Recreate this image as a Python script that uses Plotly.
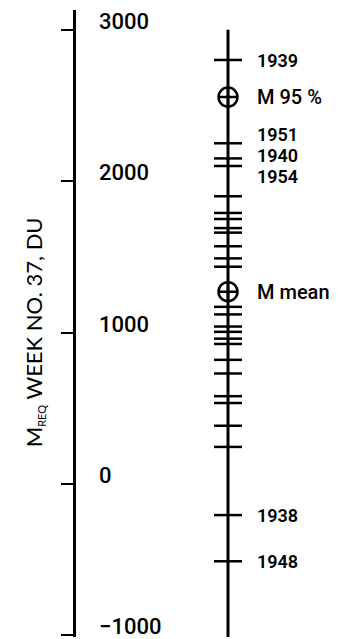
import plotly.graph_objects as go

# Main scale: required M for week 37 (Dobson units)
axis_ticks = [-1000, 0, 1000, 2000, 3000]

# Yearly values marked on the nomogram scale
labeled_years = ["1939", "1951", "1940", "1954", "1938", "1948"]
labeled_values = [2800, 2250, 2150, 2100, -205, -510]
unlabeled_values = [1900, 1790, 1750, 1690, 1660, 1570, 1490, 1435, 1170, 1120,
                    1040, 1005, 960, 925, 820, 730, 580, 535, 385, 245]

# Statistics shown as circled markers
stat_labels = ["M 95 %", "M mean"]
stat_values = [2555, 1270]

W, H = 338, 639
Y_RANGE = [-1010, 3130]
AXIS_X = 74          # left axis position (x-axis units = px)
SCALE_X = 228        # nomogram scale position
LABEL_X = 255
TICKLABEL_X = 97

label_font = "Roboto, Liberation Sans, Arial, sans-serif"
# small vertical nudges so stacked labels don't collide
label_nudge = {"1951": 9, "1940": 3, "1954": -10}

fig = go.Figure()

# nomogram scale line
fig.add_shape(type="line", xref="x", yref="y",
              x0=SCALE_X, x1=SCALE_X, y0=Y_RANGE[0], y1=max(axis_ticks),
              line=dict(color="black", width=3))

all_year_values = labeled_values + unlabeled_values
fig.add_trace(go.Scatter(
    x=[SCALE_X] * len(all_year_values), y=all_year_values, mode="markers",
    marker=dict(symbol="line-ew-open", size=20, color="black",
                line=dict(color="black", width=2.5)),
    hoverinfo="y", showlegend=False))

fig.add_trace(go.Scatter(
    x=[SCALE_X] * len(stat_values), y=stat_values, mode="markers",
    marker=dict(symbol="circle-cross-open", size=19, color="black",
                line=dict(color="black", width=2.5)),
    hoverinfo="y", showlegend=False))

annotations = []
for yr, v in zip(labeled_years, labeled_values):
    annotations.append(dict(x=LABEL_X, y=v, xref="x", yref="y", text=yr,
                            showarrow=False, xanchor="left", yanchor="middle",
                            yshift=label_nudge.get(yr, 0), height=16, valign="middle",
                            font=dict(family=label_font, size=18, weight=600, color="black")))
for name, v in zip(stat_labels, stat_values):
    annotations.append(dict(x=LABEL_X, y=v, xref="x", yref="y", text=name,
                            showarrow=False, xanchor="left", yanchor="middle",
                            font=dict(family=label_font, size=20, weight=500, color="black")))

# left-axis tick labels, set to the right of the axis line
for t in axis_ticks:
    annotations.append(dict(x=TICKLABEL_X, y=t, xref="x", yref="y",
                            text=f"{t:d}".replace("-", "\u2212"),
                            showarrow=False, xanchor="left", yanchor="middle",
                            yshift=9, height=20, valign="middle",
                            font=dict(family=label_font, size=22, weight=500, color="black")))

# rotated axis title
annotations.append(dict(
    x=34 / W, y=0.486, xref="paper", yref="paper",
    text="M<sub><span style='font-size:11px'>REQ</span></sub> WEEK NO. 37, DU",
    textangle=-90, showarrow=False, xanchor="center", yanchor="middle",
    font=dict(family="Lato, Open Sans, sans-serif", size=22, color="black")))

fig.update_layout(
    width=W, height=H,
    margin=dict(l=0, r=0, t=10, b=2),
    paper_bgcolor="white", plot_bgcolor="white",
    annotations=annotations,
    xaxis=dict(range=[0, W], visible=False, domain=[0, 1]),
    yaxis=dict(range=Y_RANGE, anchor="free", position=AXIS_X / W,
               showline=True, linecolor="black", linewidth=3,
               ticks="outside", ticklen=12, tickwidth=2, tickcolor="black",
               tickvals=axis_ticks, showticklabels=False,
               showgrid=False, zeroline=False),
)

fig.write_html("out.html")
